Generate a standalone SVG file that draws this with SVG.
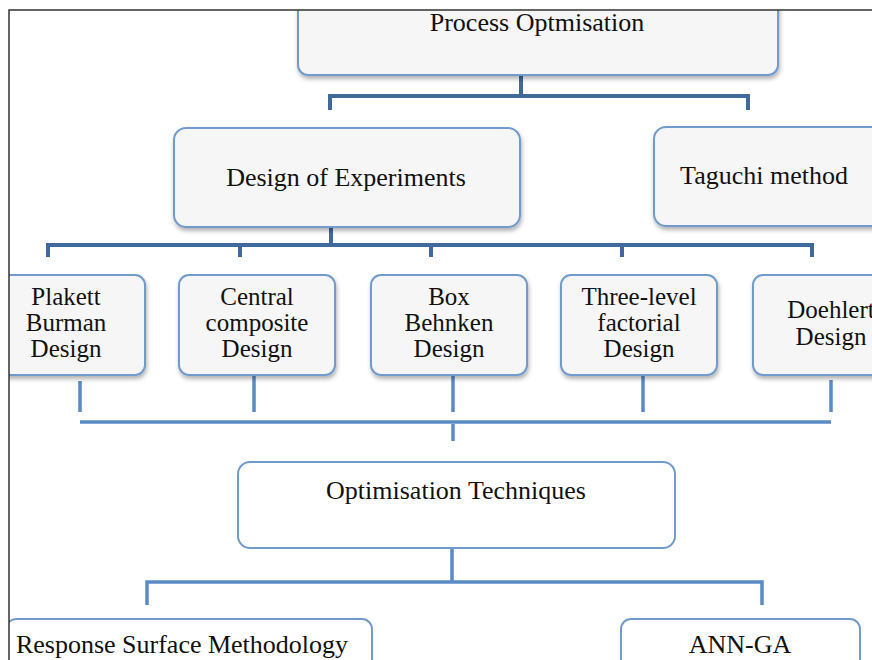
<svg xmlns="http://www.w3.org/2000/svg" width="872" height="660" viewBox="0 0 872 660">
<defs>
<filter id="sh" x="-10%" y="-10%" width="120%" height="130%">
<feDropShadow dx="1" dy="3" stdDeviation="2" flood-color="#000" flood-opacity="0.3"/>
</filter>
<clipPath id="frame"><rect x="9" y="10" width="863" height="650"/></clipPath>
</defs>
<style>
.box{fill:#f6f6f6;stroke:#729bcd;stroke-width:2;filter:url(#sh)}
.wbox{fill:#fff;stroke:#729bcd;stroke-width:2}
.t{font-family:"Liberation Serif","Times New Roman",serif;font-size:26px;fill:#111;text-anchor:middle}
.s{font-size:25px}
.c1{stroke:#41699c;stroke-width:4;fill:none}
.c2{stroke:#5b8bc6;stroke-width:3.5;fill:none}
.f{stroke:#c9d8ea;stroke-width:4;fill:none}
</style>
<rect width="872" height="660" fill="#fff"/>
<g clip-path="url(#frame)">
<g id="connectors">
<path class="f" d="M521 58V75M331 211V227"/>
<path class="c1" d="M521 75V96M330 110V96H748V110"/>
<path class="c1" d="M331 227V245M48 257V245H812V257M240 245V257M431 245V257M622 245V257"/>
<path class="c2" d="M80 381V412M254 372V412M453 372V412M643 372V412M831 380V412"/>
<path class="c2" d="M80 422H831M453 424V441"/>
<path class="c2" d="M452 548V582M147 605V582H762V605"/>
</g>
<g id="process"><rect class="box" x="298" y="-20" width="480" height="95" rx="10"/><text class="t" x="537" y="31">Process Optmisation</text></g>
<g id="doe"><rect class="box" x="174" y="128" width="346" height="99" rx="12"/><text class="t" x="346" y="186">Design of Experiments</text></g>
<g id="taguchi"><rect class="box" x="654" y="127" width="240" height="99" rx="12"/><text class="t" x="764" y="184">Taguchi method</text></g>
<g id="plakett"><rect class="box" x="-10" y="275" width="155" height="100" rx="10"/><text class="t s" x="66" y="305">Plakett</text><text class="t s" x="66" y="331">Burman</text><text class="t s" x="66" y="357">Design</text></g>
<g id="ccd"><rect class="box" x="179" y="275" width="156" height="100" rx="10"/><text class="t s" x="257" y="305">Central</text><text class="t s" x="257" y="331">composite</text><text class="t s" x="257" y="357">Design</text></g>
<g id="bbd"><rect class="box" x="371" y="275" width="156" height="100" rx="10"/><text class="t s" x="449" y="305">Box</text><text class="t s" x="449" y="331">Behnken</text><text class="t s" x="449" y="357">Design</text></g>
<g id="tlfd"><rect class="box" x="561" y="275" width="156" height="100" rx="10"/><text class="t s" x="639" y="305">Three-level</text><text class="t s" x="639" y="331">factorial</text><text class="t s" x="639" y="357">Design</text></g>
<g id="doehlert"><rect class="box" x="753" y="275" width="160" height="100" rx="10"/><text class="t s" x="831" y="318">Doehlert</text><text class="t s" x="831" y="345">Design</text></g>
<g id="opt"><rect class="wbox" x="238" y="462" width="437" height="86" rx="12"/><text class="t" x="456" y="499">Optimisation Techniques</text></g>
<g id="rsm"><rect class="wbox" x="6" y="619" width="366" height="60" rx="10"/><text class="t" x="182" y="653">Response Surface Methodology</text></g>
<g id="annga"><rect class="wbox" x="621" y="619" width="239" height="60" rx="10"/><text class="t" x="740" y="653">ANN-GA</text></g>
</g>
<path d="M9 660V10H872" fill="none" stroke="#333" stroke-width="1.5"/>
</svg>
